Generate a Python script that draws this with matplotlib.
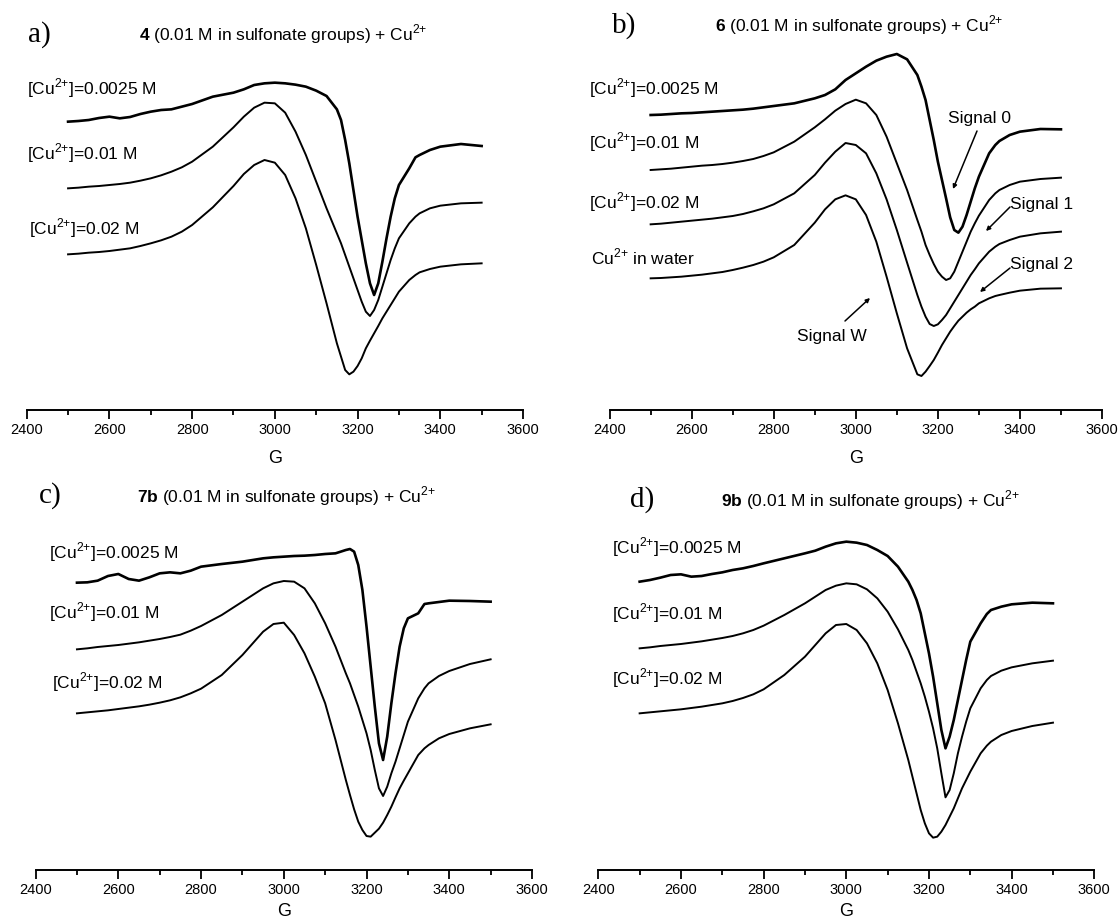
import numpy as np
import matplotlib
matplotlib.use("Agg")
import matplotlib.pyplot as plt
from matplotlib.ticker import MultipleLocator

plt.rcParams['font.family'] = ['Liberation Sans', 'DejaVu Sans']
plt.rcParams['mathtext.fontset'] = 'custom'
plt.rcParams['mathtext.rm'] = 'Liberation Sans'
plt.rcParams['mathtext.bf'] = 'Liberation Sans:bold'

W, H = 1118, 923

# magnetic field (G), shared by every spectrum
FIELD_G = [2500, 2525, 2550, 2575, 2600, 2625, 2650, 2675, 2700, 2725, 2750, 2775, 2800,
           2850, 2900, 2925, 2950, 2975, 3000, 3025, 3050, 3075, 3100, 3125,
           3150, 3160, 3170, 3180, 3190, 3200, 3210, 3220, 3230, 3240, 3250, 3260, 3270,
           3280, 3290, 3300, 3325, 3340, 3350, 3375, 3400, 3450, 3500]

# panel a) : compound 4, stacked spectra (a.u., offsets included)
A_0025 = [865, 867, 870, 876, 880, 875, 879, 888, 895, 900, 902, 910, 918,
          940, 952, 962, 975, 980, 982, 980, 976, 970, 958, 942,
          902, 870, 810, 740, 660, 580, 510, 440, 380, 345, 380, 445, 515,
          580, 635, 675, 725, 758, 765, 780, 790, 798, 792]
A_001 = [665, 667, 670, 672, 675, 678, 682, 688, 695, 704, 715, 728, 745,
         790, 848, 880, 907, 922, 920, 892, 835, 765, 685, 605,
         530, 500, 465, 430, 395, 360, 325, 295, 282, 300, 330, 370, 410,
         450, 485, 515, 560, 580, 590, 605, 613, 620, 622]
A_002 = [467, 469, 472, 474, 477, 481, 485, 492, 500, 509, 520, 535, 555,
         608, 672, 708, 735, 750, 742, 705, 635, 545, 435, 320,
         200, 160, 120, 107, 115, 132, 155, 185, 208, 230, 252, 275, 295,
         315, 335, 355, 390, 405, 413, 423, 430, 437, 440]

# panel b) : compound 6
B_0025 = [885, 886, 888, 890, 891, 893, 895, 897, 899, 901, 904, 908, 912,
          920, 935, 945, 962, 990, 1010, 1030, 1048, 1060, 1068, 1052,
          1005, 970, 930, 870, 810, 745, 690, 635, 578, 540, 532, 550, 585,
          625, 665, 700, 770, 795, 807, 825, 835, 843, 842]
B_001 = [720, 722, 724, 727, 730, 733, 735, 738, 742, 747, 753, 762, 773,
         805, 848, 872, 898, 918, 931, 920, 885, 820, 740, 660,
         570, 535, 495, 465, 438, 415, 400, 390, 395, 415, 445, 475, 505,
         535, 560, 583, 630, 650, 660, 675, 685, 693, 697]
B_002 = [557, 559, 562, 565, 568, 571, 574, 578, 582, 588, 596, 605, 617,
         650, 705, 742, 775, 801, 795, 770, 710, 632, 540, 442,
         345, 310, 280, 258, 252, 257, 270, 285, 305, 325, 345, 365, 385,
         405, 422, 440, 475, 490, 498, 510, 520, 530, 535]
B_WATER = [395, 396, 398, 400, 403, 406, 410, 414, 420, 427, 435, 445, 458,
           495, 562, 602, 632, 644, 632, 585, 505, 400, 290, 185,
           107, 102, 115, 132, 150, 172, 195, 215, 235, 252, 268, 280, 292,
           302, 310, 320, 335, 342, 345, 352, 358, 364, 365]

# panel c) : compound 7b
C_0025 = [862, 863, 868, 882, 888, 873, 868, 878, 890, 893, 890, 898, 910,
          918, 925, 930, 935, 938, 940, 942, 943, 945, 948, 950,
          960, 963, 955, 915, 840, 730, 610, 490, 380, 330, 400, 500, 590,
          670, 725, 755, 770, 798, 800, 804, 808, 807, 805]
C_001 = [662, 665, 669, 672, 675, 679, 683, 688, 693, 699, 706, 718, 732,
         765, 805, 825, 845, 860, 867, 865, 845, 800, 740, 670,
         590, 560, 525, 490, 450, 410, 360, 300, 245, 222, 250, 290, 325,
         365, 405, 445, 515, 545, 560, 582, 597, 618, 632]
C_002 = [470, 473, 476, 479, 483, 487, 491, 496, 502, 509, 518, 530, 544,
         585, 645, 680, 715, 738, 742, 705, 650, 580, 500, 390,
         270, 225, 182, 145, 120, 102, 100, 112, 124, 142, 165, 190, 218,
         245, 268, 290, 345, 365, 375, 395, 408, 425, 437]

# panel d) : compound 9b
D_0025 = [865, 870, 877, 885, 887, 880, 882, 888, 893, 900, 905, 912, 920,
          935, 950, 958, 970, 980, 985, 982, 975, 960, 942, 910,
          865, 840, 810, 770, 710, 650, 580, 500, 420, 365, 400, 450, 510,
          570, 630, 685, 740, 768, 780, 790, 797, 802, 800]
D_001 = [665, 668, 672, 675, 678, 682, 686, 691, 696, 702, 710, 720, 733,
         765, 800, 820, 840, 853, 860, 857, 842, 815, 775, 722,
         660, 630, 595, 560, 520, 475, 425, 365, 290, 218, 240, 290, 350,
         400, 445, 485, 545, 570, 582, 598, 608, 620, 628]
D_002 = [470, 473, 476, 479, 482, 486, 490, 495, 500, 507, 516, 527, 542,
         585, 640, 675, 710, 735, 738, 720, 680, 620, 540, 440,
         330, 280, 230, 180, 140, 110, 97, 100, 115, 135, 160, 185, 215,
         245, 270, 295, 350, 373, 385, 405, 417, 432, 442]

CU = r'[Cu$^{2{+}}$]='
LABELS_3 = [CU + '0.0025 M', CU + '0.01 M', CU + '0.02 M']
LABELS_B = LABELS_3 + [r'Cu$^{2{+}}$ in water']

TITLES = [r'$\mathbf{4}$ (0.01 M in sulfonate groups) + Cu$^{2{+}}$',
          r'$\mathbf{6}$ (0.01 M in sulfonate groups) + Cu$^{2{+}}$',
          r'$\mathbf{7b}$ (0.01 M in sulfonate groups) + Cu$^{2{+}}$',
          r'$\mathbf{9b}$ (0.01 M in sulfonate groups) + Cu$^{2{+}}$']

SIGNALS = ['Signal 0', 'Signal 1', 'Signal 2', 'Signal W']

fig = plt.figure(figsize=(W / 100, H / 100), dpi=100, facecolor='white')


def fx(x):
    return x / W


def fy(y):
    return 1 - y / H


def make_axes(left, right, bottom, top, ytop, labelpad):
    ax = fig.add_axes([fx(left), fy(bottom), fx(right - left), (bottom - top) / H])
    ax.patch.set_alpha(0)
    ax.set_xlim(2400, 3600)
    ax.set_ylim(0, ytop)
    for s in ['top', 'right', 'left']:
        ax.spines[s].set_visible(False)
    ax.spines['bottom'].set_linewidth(1.4)
    ax.set_yticks([])
    ax.xaxis.set_major_locator(MultipleLocator(200))
    ax.xaxis.set_minor_locator(MultipleLocator(100))
    ax.tick_params(axis='x', which='major', length=6.5, width=1.3, labelsize=10.5, pad=2.5)
    ax.tick_params(axis='x', which='minor', length=3.4, width=1.3)
    ax.set_xlabel('G', fontsize=13, labelpad=labelpad)
    return ax


# (left, right, bottom, top, ytop) in figure pixels
ax_a = make_axes(26.7, 523, 410, 70, 1020, 10)
ax_b = make_axes(609.6, 1102, 410, 40, 1110, 10)
ax_c = make_axes(35.6, 532, 870, 540, 990, 5)
ax_d = make_axes(598.3, 1094.3, 870, 540, 990, 5)

panels = [
    (ax_a, [A_0025, A_001, A_002]),
    (ax_b, [B_0025, B_001, B_002, B_WATER]),
    (ax_c, [C_0025, C_001, C_002]),
    (ax_d, [D_0025, D_001, D_002]),
]
for ax, curves in panels:
    for i, ys in enumerate(curves):
        lw = 1.9 if i == 0 else 1.4
        ax.plot(FIELD_G, ys, color='black', lw=lw, clip_on=False,
                solid_joinstyle='round')

# curve labels: (x, baseline y) in pixels
label_pos = [
    [(27, 94), (27, 159), (28.6, 234)],
    [(588.6, 94), (588.6, 148), (588.6, 208), (591, 264)],
    [(49, 558), (49, 618), (52, 688)],
    [(612, 553), (612, 619), (612, 684)],
]
label_sets = [LABELS_3, LABELS_B, LABELS_3, LABELS_3]
for labels, pos in zip(label_sets, label_pos):
    for s, (x, y) in zip(labels, pos):
        fig.text(fx(x), fy(y), s, fontsize=12.5, ha='left', va='baseline')

# titles and panel letters
title_pos = [(283, 40), (859, 31), (286, 502), (870, 506)]
for s, (x, y) in zip(TITLES, title_pos):
    fig.text(fx(x), fy(y), s, fontsize=12.5, ha='center', va='baseline')

letter_pos = [('a)', 28, 42), ('b)', 612, 33), ('c)', 39, 503), ('d)', 630, 507)]
for s, x, y in letter_pos:
    fig.text(fx(x), fy(y), s, fontsize=21, ha='left', va='baseline',
             family='Liberation Serif')

# signal annotations in panel b
sig_text = [(979, 118), (1042, 205), (1042, 265), (832, 337)]
sig_line = [((977, 131), (953, 189)), ((1010, 207), (986, 231)),
            ((1010, 268), (980, 292)), ((845, 321), (870, 298))]
for s, (tx, ty), (p0, p1) in zip(SIGNALS, sig_text, sig_line):
    fig.text(fx(tx), fy(ty), s, fontsize=12.5, ha='center', va='center')
    ax_b.annotate('', xy=(p1[0], H - p1[1]), xycoords='figure pixels',
                  xytext=(p0[0], H - p0[1]), textcoords='figure pixels',
                  arrowprops=dict(arrowstyle='-|>', lw=1.1, color='black',
                                  mutation_scale=6, shrinkA=0, shrinkB=0))

fig.savefig('out.png', dpi=100)
plt.close(fig)
